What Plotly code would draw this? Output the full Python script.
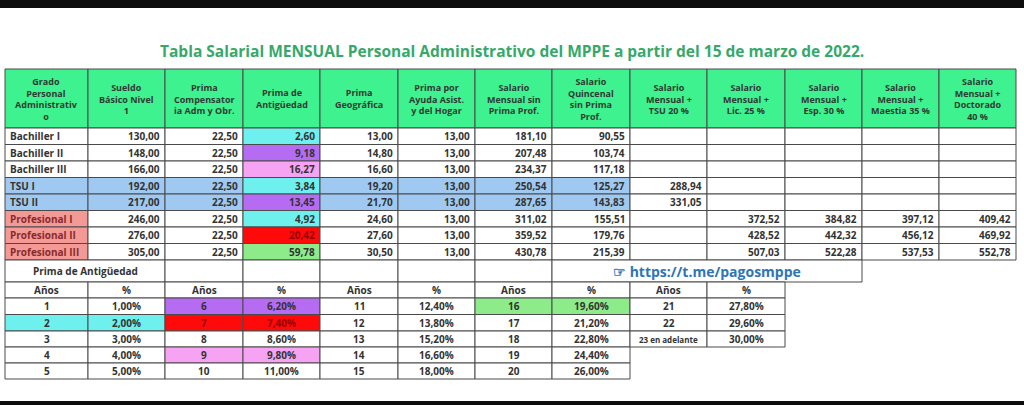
import plotly.graph_objects as go

title = "Tabla Salarial MENSUAL Personal Administrativo del MPPE a partir del 15 de marzo de 2022."
headers = ["Grado<br>Personal<br>Administrativ<br>o", "Sueldo<br>Básico Nivel<br>1", "Prima<br>Compensator<br>ia Adm y Obr.",
           "Prima de<br>Antigüedad", "Prima<br>Geográfica", "Prima por<br>Ayuda Asist.<br>y del Hogar",
           "Salario<br>Mensual sin<br>Prima Prof.", "Salario<br>Quincenal<br>sin Prima<br>Prof.",
           "Salario<br>Mensual +<br>TSU 20 %", "Salario<br>Mensual +<br>Lic. 25 %", "Salario<br>Mensual +<br>Esp. 30 %",
           "Salario<br>Mensual +<br>Maestia 35 %", "Salario<br>Mensual +<br>Doctorado<br>40 %"]
grados = ["Bachiller I", "Bachiller II", "Bachiller III", "TSU I", "TSU II", "Profesional I", "Profesional II", "Profesional III"]
sueldo = ["130,00", "148,00", "166,00", "192,00", "217,00", "246,00", "276,00", "305,00"]
compens = ["22,50"] * 8
antig = ["2,60", "9,18", "16,27", "3,84", "13,45", "4,92", "20,42", "59,78"]
geo = ["13,00", "14,80", "16,60", "19,20", "21,70", "24,60", "27,60", "30,50"]
hogar = ["13,00"] * 8
mensual = ["181,10", "207,48", "234,37", "250,54", "287,65", "311,02", "359,52", "430,78"]
quincenal = ["90,55", "103,74", "117,18", "125,27", "143,83", "155,51", "179,76", "215,39"]
tsu20 = ["", "", "", "288,94", "331,05", "", "", ""]
lic25 = ["", "", "", "", "", "372,52", "428,52", "507,03"]
esp30 = ["", "", "", "", "", "384,82", "442,32", "522,28"]
mae35 = ["", "", "", "", "", "397,12", "456,12", "537,53"]
doc40 = ["", "", "", "", "", "409,42", "469,92", "552,78"]
anios = [["1", "2", "3", "4", "5"], ["6", "7", "8", "9", "10"], ["11", "12", "13", "14", "15"],
         ["16", "17", "18", "19", "20"], ["21", "22", "23 en adelante"]]
pcts = [["1,00%", "2,00%", "3,00%", "4,00%", "5,00%"], ["6,20%", "7,40%", "8,60%", "9,80%", "11,00%"],
        ["12,40%", "13,80%", "15,20%", "16,60%", "18,00%"], ["19,60%", "21,20%", "22,80%", "24,40%", "26,00%"],
        ["27,80%", "29,60%", "30,00%"]]
link = "☞ https://t.me/pagosmppe"

X = [5, 88, 165, 243, 320, 398, 475, 552, 630, 707, 785, 862, 939, 1016]
RY = [128, 144.5, 161, 177.5, 194, 210.5, 227, 243.5, 260]
BY = [260, 282, 298, 314.5, 331, 347, 363, 379]

GREEN = "#3DF28F"; CYAN = "#6EF0EE"; PURP = "#B56CF2"; PINK = "#F5A3F2"; RED = "#FF0A0A"
LGREEN = "#8DEB8A"; BLUE = "#9FC9F0"; SALMON = "#F39A96"; TXT = "#333333"; LINE = "#4A4A4A"

shapes = []; ann = []
def cell(x0, x1, y0, y1, fill="white", text="", align="right", color=TXT, size=10, lw=1, lc=LINE):
    shapes.append(dict(type="rect", xref="x", yref="y", x0=x0, x1=x1, y0=y0, y1=y1,
                       fillcolor=fill, line=dict(color=lc, width=lw), layer="below"))
    if text:
        if align == "right": xa, anc = x1 - 3, "right"
        elif align == "left": xa, anc = x0 + 3, "left"
        else: xa, anc = (x0 + x1) / 2, "center"
        ann.append(dict(x=xa, y=(y0 + y1) / 2, xref="x", yref="y", text=text, showarrow=False,
                        xanchor=anc, yanchor="middle", align="center",
                        font=dict(family="Open Sans", size=size, color=color, weight="bold")))

for i, h in enumerate(headers):
    cell(X[i], X[i + 1], 69, RY[0], GREEN, h, "center", "#2F3A33", 9)
cols = [grados, sueldo, compens, antig, geo, hogar, mensual, quincenal, tsu20, lic25, esp30, mae35, doc40]
antcol = [CYAN, PURP, PINK, CYAN, PURP, CYAN, RED, LGREEN]
for r in range(8):
    for c in range(13):
        fill = "white"
        if r in (3, 4) and c < 8: fill = BLUE
        if c == 0 and r >= 5: fill = SALMON
        if c == 3: fill = antcol[r]
        color = TXT
        if c == 0 and r >= 5: color = "#8A2A2A"
        if r == 6 and c == 3: color = "#9A0000"
        cell(X[c], X[c + 1], RY[r], RY[r + 1], fill, cols[c][r], "left" if c == 0 else "right", color)

cell(X[0], X[2], BY[0], BY[1], "white", "Prima de Antigüedad", "center", TXT, 10)
for c in range(2, 7):
    cell(X[c], X[c + 1], BY[0], BY[1])
cell(X[7], X[11], BY[0], BY[1], "white", link, "center", "#2E75B6", 14)
bfill = {(0, 1): CYAN, (1, 0): PURP, (1, 1): RED, (1, 3): PINK, (3, 0): LGREEN}
for g in range(5):
    c0 = X[2 * g]; c1 = X[2 * g + 1]; c2 = X[2 * g + 2]
    cell(c0, c1, BY[1], BY[2], "white", "Años", "center")
    cell(c1, c2, BY[1], BY[2], "white", "%", "center")
    for r in range(len(anios[g])):
        f = bfill.get((g, r), "white")
        col = "#9A0000" if f == RED else TXT
        sz = 8 if len(anios[g][r]) > 5 else 10
        cell(c0, c1, BY[r + 2], BY[r + 3], f, anios[g][r], "center", col, sz)
        cell(c1, c2, BY[r + 2], BY[r + 3], f, pcts[g][r], "center", col)

shapes.append(dict(type="rect", xref="x", yref="y", x0=0, x1=1024, y0=0, y1=8, fillcolor="#0d0d0d", line=dict(width=0)))
shapes.append(dict(type="rect", xref="x", yref="y", x0=0, x1=1024, y0=401, y1=405, fillcolor="#0d0d0d", line=dict(width=0)))
ann.append(dict(x=512, y=51, xref="x", yref="y", text=title, showarrow=False, xanchor="center", yanchor="middle",
                font=dict(family="Open Sans", size=15.5, color="#35A96A", weight="bold")))

fig = go.Figure()
fig.update_layout(width=1024, height=405, margin=dict(l=0, r=0, t=0, b=0), plot_bgcolor="white",
                  paper_bgcolor="white", shapes=shapes, annotations=ann, showlegend=False,
                  xaxis=dict(range=[0, 1024], visible=False, fixedrange=True),
                  yaxis=dict(range=[405, 0], visible=False, fixedrange=True))
fig.write_html("out.html", config={"displayModeBar": False},
               post_script="document.body.style.margin='0';document.body.style.overflow='hidden';")
